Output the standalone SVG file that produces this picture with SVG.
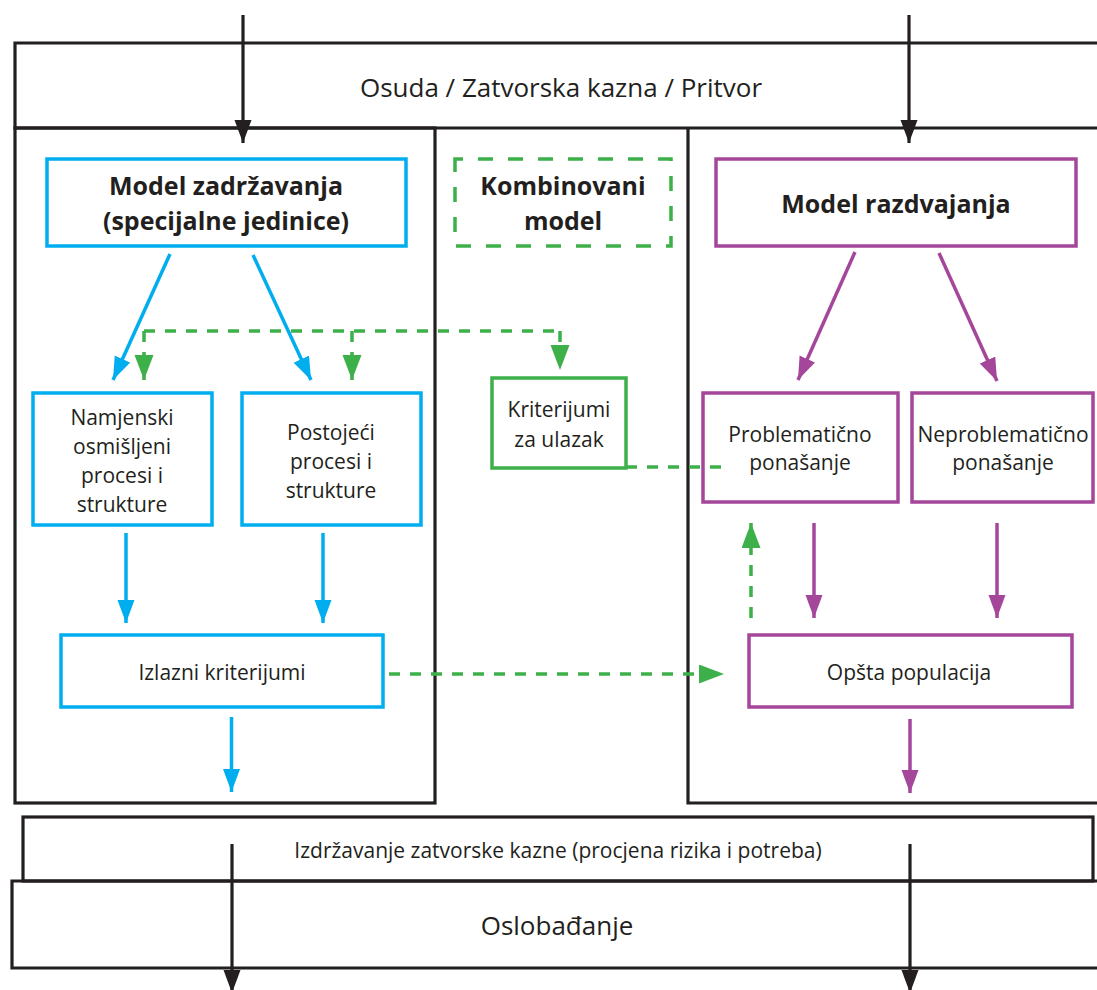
<svg xmlns="http://www.w3.org/2000/svg" width="1097" height="990" viewBox="0 0 1097 990">
<style>
.t{font-family:"Open Sans","Noto Sans","Liberation Sans",sans-serif;fill:#231f20;text-anchor:middle}
.r{font-size:21px}
.b{font-size:25px;font-weight:bold}
.big{font-size:26px}
.k{fill:none;stroke:#231f20;stroke-width:3.2}
.bl{fill:none;stroke:#00aeef;stroke-width:3.5}
.pu{fill:none;stroke:#a4479b;stroke-width:3.5}
.gs{fill:none;stroke:#3db049;stroke-width:3.5}
.gd{fill:none;stroke:#3db049;stroke-width:3.5;stroke-dasharray:11 10}
.gb{fill:none;stroke:#3db049;stroke-width:3.5;stroke-dasharray:15 15;stroke-dashoffset:7}
</style>
<defs>
<marker id="ak" markerUnits="userSpaceOnUse" markerWidth="24" markerHeight="18" refX="23" refY="8.5" orient="auto"><path d="M0,0 L23,8.5 L0,17 z" fill="#231f20"/></marker>
<marker id="ab" markerUnits="userSpaceOnUse" markerWidth="24" markerHeight="18" refX="23" refY="8.5" orient="auto"><path d="M0,0 L23,8.5 L0,17 z" fill="#00aeef"/></marker>
<marker id="ap" markerUnits="userSpaceOnUse" markerWidth="24" markerHeight="18" refX="23" refY="8.5" orient="auto"><path d="M0,0 L23,8.5 L0,17 z" fill="#a4479b"/></marker>
<marker id="ag" markerUnits="userSpaceOnUse" markerWidth="26" markerHeight="20" refX="25" refY="9.5" orient="auto"><path d="M0,0 L25,9.5 L0,19 z" fill="#3db049"/></marker>
</defs>
<rect width="1097" height="990" fill="#fff"/>

<g id="band-osuda">
<path class="k" d="M1100,43 H15 V128 H1100"/>
<text class="t big" x="561" y="97">Osuda / Zatvorska kazna / Pritvor</text>
</g>
<g id="panel-left">
<rect class="k" x="15" y="128" width="420" height="675"/>
</g>
<g id="panel-right">
<path class="k" d="M1100,803 H688 V128"/>
</g>
<g id="band-izdrzavanje">
<rect class="k" x="23" y="817" width="1070" height="64"/>
<text class="t r" x="558" y="858">Izdržavanje zatvorske kazne (procjena rizika i potreba)</text>
</g>
<g id="band-oslobadjanje">
<path class="k" d="M1100,881 H12 V968 H1100"/>
<text class="t big" x="557" y="935">Oslobađanje</text>
</g>

<g id="model-zadrzavanja">
<rect class="bl" x="47" y="159" width="359" height="87"/>
<text class="t b" x="226" y="195">Model zadržavanja</text>
<text class="t b" x="226" y="230">(specijalne jedinice)</text>
</g>
<g id="namjenski">
<rect class="bl" x="33" y="393" width="179" height="132"/>
<text class="t r" x="122" y="425">Namjenski</text>
<text class="t r" x="122" y="454">osmišljeni</text>
<text class="t r" x="122" y="483">procesi i</text>
<text class="t r" x="122" y="512">strukture</text>
</g>
<g id="postojeci">
<rect class="bl" x="242" y="393" width="179" height="132"/>
<text class="t r" x="331" y="440">Postojeći</text>
<text class="t r" x="331" y="469">procesi i</text>
<text class="t r" x="331" y="498">strukture</text>
</g>
<g id="izlazni">
<rect class="bl" x="61" y="635" width="322" height="72"/>
<text class="t r" x="222" y="680">Izlazni kriterijumi</text>
</g>

<g id="kombinovani">
<rect class="gb" x="455" y="159" width="216" height="87"/>
<text class="t b" x="563" y="195">Kombinovani</text>
<text class="t b" x="563" y="230">model</text>
</g>
<g id="kriterijumi">
<rect class="gs" x="492" y="378" width="134" height="90"/>
<text class="t r" x="559" y="417">Kriterijumi</text>
<text class="t r" x="559" y="447">za ulazak</text>
</g>

<g id="model-razdvajanja">
<rect class="pu" x="716" y="159" width="360" height="87"/>
<text class="t b" x="896" y="213">Model razdvajanja</text>
</g>
<g id="problematicno">
<rect class="pu" x="703" y="393" width="195" height="109"/>
<text class="t r" x="800" y="442">Problematično</text>
<text class="t r" x="800" y="470">ponašanje</text>
</g>
<g id="neproblematicno">
<rect class="pu" x="912" y="393" width="181" height="109"/>
<text class="t r" x="1003" y="442">Neproblematično</text>
<text class="t r" x="1003" y="470">ponašanje</text>
</g>
<g id="opsta">
<rect class="pu" x="749" y="635" width="323" height="72"/>
<text class="t r" x="909" y="680">Opšta populacija</text>
</g>

<g id="connectors">
<line class="k" x1="243" y1="15" x2="243" y2="143" marker-end="url(#ak)"/>
<line class="k" x1="909" y1="15" x2="909" y2="143" marker-end="url(#ak)"/>
<line class="k" x1="232" y1="844" x2="232" y2="993" marker-end="url(#ak)"/>
<line class="k" x1="910" y1="844" x2="910" y2="993" marker-end="url(#ak)"/>

<line class="bl" x1="170" y1="254" x2="113" y2="380" marker-end="url(#ab)"/>
<line class="bl" x1="253" y1="255" x2="311" y2="380" marker-end="url(#ab)"/>
<line class="bl" x1="126" y1="533" x2="126" y2="623" marker-end="url(#ab)"/>
<line class="bl" x1="323" y1="533" x2="323" y2="623" marker-end="url(#ab)"/>
<line class="bl" x1="231.5" y1="717" x2="231.5" y2="792" marker-end="url(#ab)"/>

<line class="pu" x1="855" y1="252" x2="798" y2="380" marker-end="url(#ap)"/>
<line class="pu" x1="939" y1="253" x2="997" y2="381" marker-end="url(#ap)"/>
<line class="pu" x1="814" y1="523" x2="814" y2="618" marker-end="url(#ap)"/>
<line class="pu" x1="997" y1="523" x2="997" y2="618" marker-end="url(#ap)"/>
<line class="pu" x1="910" y1="719" x2="910" y2="793" marker-end="url(#ap)"/>

<path class="gd" d="M144,331 H560"/>
<path class="gd" d="M144,331 V380" marker-end="url(#ag)"/>
<path class="gd" d="M352,331 V380" marker-end="url(#ag)"/>
<path class="gd" d="M560,331 V370" marker-end="url(#ag)"/>
<path class="gd" d="M626,467 H723"/>
<path class="gd" d="M389,674 H724" marker-end="url(#ag)"/>
<path class="gd" d="M751,618 V523" marker-end="url(#ag)"/>
</g>
</svg>
